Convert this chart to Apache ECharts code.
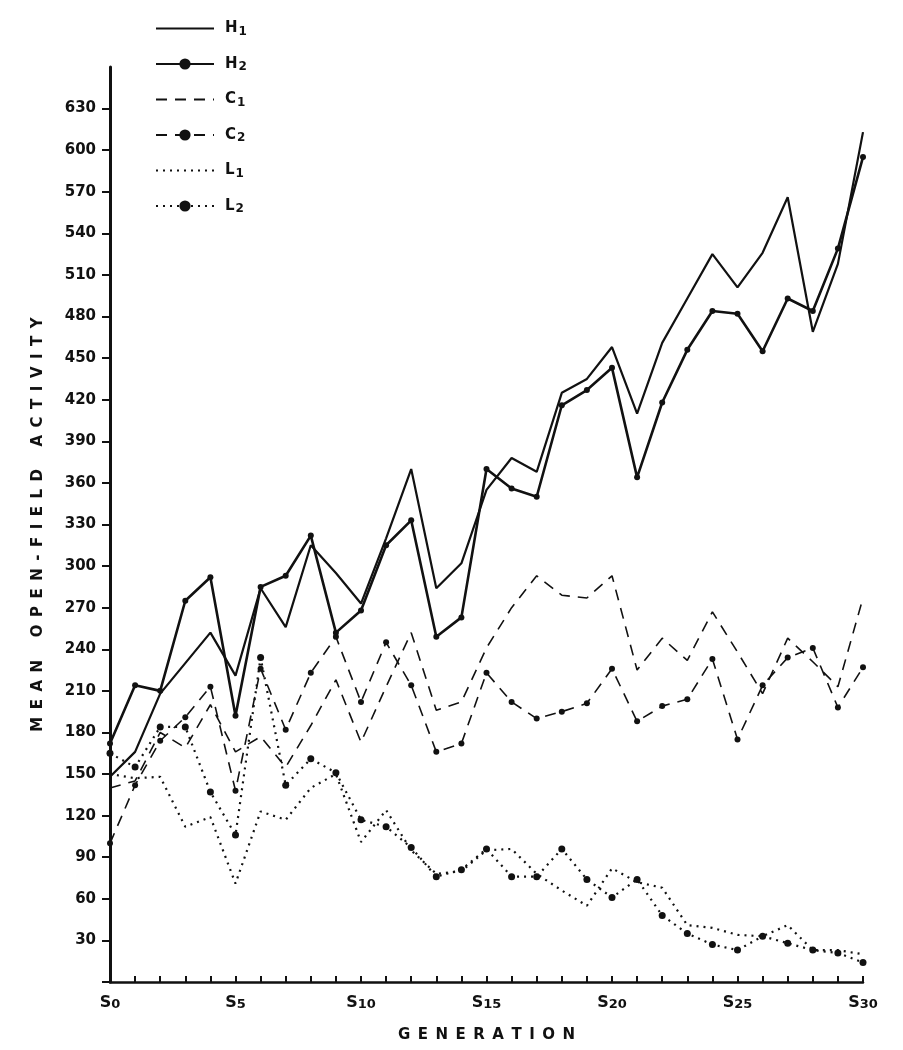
<!DOCTYPE html>
<html>
<head>
<meta charset="utf-8">
<script src="https://cdn.jsdelivr.net/npm/echarts@6/dist/echarts.min.js"></script>
<style>
    html, body {margin: 0; padding: 0; background: #fff;}
    #chart {width: 903px; height: 1050px;}
</style>
</head>
<body>
<div id="chart"></div>
<script>
// generations S0..S30
var generations = [];
for (var g = 0; g <= 30; g++) generations.push('S' + g);

// labelled y ticks (the axis line runs on to 660 without a tick)
var yTicks = [];
for (var t = 0; t <= 630; t += 30) yTicks.push(t);

// mean open-field activity
var h1 = [148, 166, 208, 230, 252, 221, 284, 256, 315, 295, 273, 320, 370, 284, 302, 355,
    378, 368, 425, 435, 458, 410, 461, 493, 525, 501, 526, 566, 469, 518, 613];
var h2 = [172, 214, 210, 275, 292, 192, 285, 293, 322, 252, 268, 315, 333, 249, 263, 370,
    356, 350, 416, 427, 443, 364, 418, 456, 484, 482, 455, 493, 484, 529, 595];
var c1 = [140, 145, 180, 169, 200, 166, 177, 155, 185, 218, 173, 213, 252, 196, 202, 241,
    270, 293, 279, 277, 293, 225, 248, 232, 267, 238, 208, 248, 231, 213, 277];
var c2 = [100, 142, 174, 191, 213, 138, 226, 182, 223, 249, 202, 245, 214, 166, 172, 223,
    202, 190, 195, 201, 226, 188, 199, 204, 233, 175, 214, 234, 241, 198, 227];
var l1 = [150, 147, 148, 112, 119, 71, 123, 117, 140, 150, 101, 124, 95, 78, 80, 95,
    96, 78, 66, 55, 82, 72, 68, 41, 39, 34, 33, 41, 23, 23, 20];
var l2 = [165, 155, 184, 184, 137, 106, 234, 142, 161, 151, 117, 112, 97, 76, 81, 96,
    76, 76, 96, 74, 61, 74, 48, 35, 27, 23, 33, 28, 23, 21, 14];

var INK = '#111';

function lineSeries(name, data, type, dots) {
    return {
        name: name,
        type: 'line',
        data: data,
        showSymbol: dots,
        symbol: dots ? 'circle' : 'none',
        symbolSize: type === 'dotted' ? 7 : 6,
        itemStyle: {color: INK},
        lineStyle: {
            color: INK,
            width: type === 'solid' ? (dots ? 2.6 : 2.2) : (type === 'dashed' ? 1.6 : 2.2),
            type: type === 'solid' ? 'solid' : (type === 'dashed' ? [11, 8] : [2, 5])
        }
    };
}

// spread letters out like the hand lettering
function spaced(s) {
    return s.split(' ').map(function (w) {
        return w.split('').join('\u2002');
    }).join('\u2002\u2002\u2002');
}

var noDot = {opacity: 0};

var chart = echarts.init(document.getElementById('chart'));
chart.setOption({
    animation: false,
    backgroundColor: '#fff',
    textStyle: {fontFamily: 'DejaVu Sans', color: INK},
    legend: {
        orient: 'vertical',
        left: 150,
        top: 16,
        itemWidth: 58,
        itemHeight: 14,
        itemGap: 19,
        data: [
            {name: 'H1', itemStyle: noDot},
            'H2',
            {name: 'C1', itemStyle: noDot},
            'C2',
            {name: 'L1', itemStyle: noDot},
            'L2'
        ],
        formatter: function (name) {
            return '{a|' + name.charAt(0) + '}{b|' + name.charAt(1) + '}';
        },
        textStyle: {
            rich: {
                a: {fontSize: 15, fontWeight: 'bold', color: INK, padding: [0, 0, 0, 6]},
                b: {fontSize: 12, fontWeight: 'bold', color: INK, padding: [6, 0, 0, 1]}
            }
        }
    },
    grid: {left: 110, right: 40, top: 67, bottom: 68},
    xAxis: {
        type: 'category',
        data: generations,
        boundaryGap: false,
        name: spaced('GENERATION'),
        nameLocation: 'middle',
        nameGap: 46,
        nameTextStyle: {fontSize: 15, fontWeight: 'bold', color: INK},
        axisLine: {lineStyle: {color: INK, width: 2.5}},
        axisTick: {inside: true, length: 6, interval: 0, lineStyle: {color: INK, width: 2}},
        axisLabel: {
            interval: 4,
            margin: 12,
            formatter: function (v) {
                return '{s|S}{n|' + v.slice(1) + '}';
            },
            rich: {
                s: {fontSize: 16, fontWeight: 'bold', color: INK},
                n: {fontSize: 13, fontWeight: 'bold', color: INK, padding: [4, 0, 0, 0]}
            }
        },
        splitLine: {show: false}
    },
    yAxis: {
        type: 'value',
        min: 0,
        max: 660,
        interval: 30,
        name: spaced('MEAN OPEN-FIELD ACTIVITY'),
        nameLocation: 'middle',
        nameGap: 64,
        nameTextStyle: {fontSize: 15, fontWeight: 'bold', color: INK},
        axisLine: {show: true, lineStyle: {color: INK, width: 3}},
        axisTick: {show: true, length: 8, customValues: yTicks, lineStyle: {color: INK, width: 2}},
        axisLabel: {
            fontSize: 15,
            fontWeight: 'bold',
            color: INK,
            margin: 14,
            formatter: function (v) {
                return (v === 0 || v === 660) ? '' : String(v);
            }
        },
        splitLine: {show: false}
    },
    series: [
        lineSeries('H1', h1, 'solid', false),
        lineSeries('H2', h2, 'solid', true),
        lineSeries('C1', c1, 'dashed', false),
        lineSeries('C2', c2, 'dashed', true),
        lineSeries('L1', l1, 'dotted', false),
        lineSeries('L2', l2, 'dotted', true)
    ]
});
</script>
</body>
</html>
